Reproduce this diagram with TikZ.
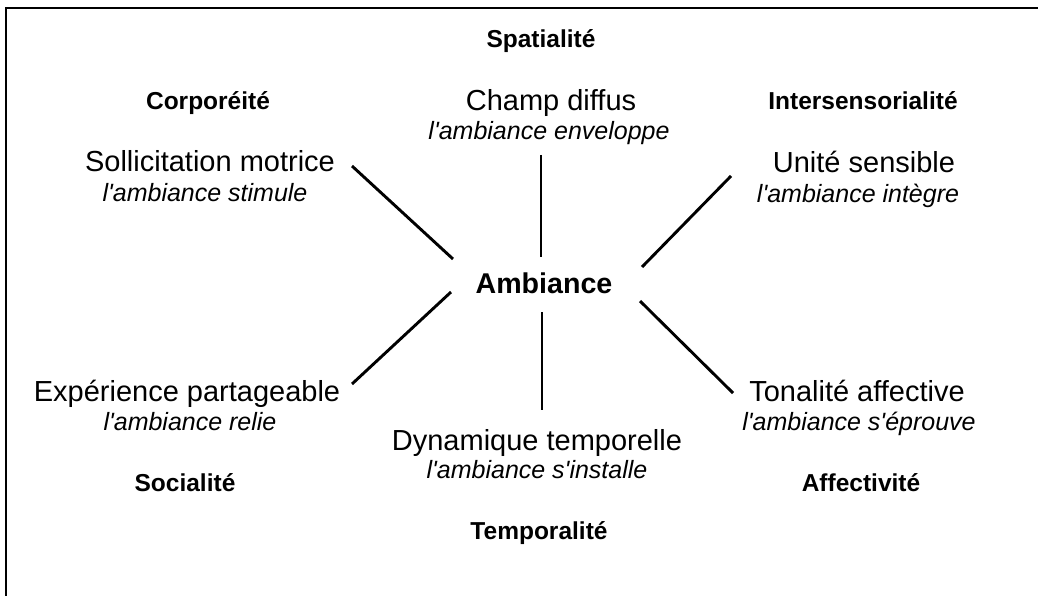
\documentclass[tikz,border=0pt]{standalone}
\usepackage{fontspec}
\setmainfont{Liberation Sans}[Ligatures=TeXOff]
\begin{document}
\begin{tikzpicture}[x=1pt,y=-1pt,
  dim/.style={font=\fontsize{24.5}{26}\selectfont\bfseries, anchor=base, inner sep=0pt},
  main/.style={font=\fontsize{29}{31}\selectfont, anchor=base, inner sep=0pt},
  sub/.style={font=\fontsize{25}{27}\selectfont\itshape, anchor=base, inner sep=0pt},
  spoke/.style={line width=2.9pt},
  frame/.style={line width=2.4pt}]
\useasboundingbox (0,0) rectangle (1038,596);
% frame (left and top edges only)
\coordinate (fbl) at (6,600);
\coordinate (ftl) at (6,8);
\coordinate (ftr) at (1042,8);
\draw[frame] (fbl) -- (ftl) -- (ftr);
% dimensions
\node[dim] (spat) at (541,48) {Spatialité};
\node[dim] (corp) at (208,110) {Corporéité};
\node[dim] (inter) at (863,110) {Intersensorialité};
\node[dim] (soc) at (185,491) {Socialité};
\node[dim] (aff) at (861,491) {Affectivité};
\node[dim] (temp) at (539,539) {Temporalité};
% centre
\node[main, font=\fontsize{28.6}{30}\selectfont\bfseries] (amb) at (544,293) {Ambiance};
% qualities
\node[main] (champ) at (551,111) {Champ diffus};
\node[sub] (champs) at (549,139.5) {l'ambiance enveloppe};
\node[main] (soll) at (210,172) {Sollicitation motrice};
\node[sub] (solls) at (205,201.5) {l'ambiance stimule};
\node[main] (unite) at (864,173) {Unité sensible};
\node[sub] (unites) at (858,202.5) {l'ambiance intègre};
\node[main] (exp) at (187,401) {Expérience partageable};
\node[sub] (exps) at (190,430.5) {l'ambiance relie};
\node[main] (ton) at (857,401) {Tonalité affective};
\node[sub] (tons) at (859,430.5) {l'ambiance s'éprouve};
\node[main] (dyn) at (537,450) {Dynamique temporelle};
\node[sub] (dyns) at (537,478.5) {l'ambiance s'installe};
% spoke ends
\coordinate (t1) at (541,155); \coordinate (t2) at (541,257);
\coordinate (b1) at (542,312); \coordinate (b2) at (542,410);
\coordinate (ul1) at (352,166); \coordinate (ul2) at (453,259);
\coordinate (ur1) at (731,176); \coordinate (ur2) at (642,267);
\coordinate (ll1) at (352,384); \coordinate (ll2) at (451,292);
\coordinate (lr1) at (733,393); \coordinate (lr2) at (640,301);
\draw[spoke] (t1) -- (t2);
\draw[spoke] (b1) -- (b2);
\draw[spoke] (ul1) -- (ul2);
\draw[spoke] (ur1) -- (ur2);
\draw[spoke] (ll1) -- (ll2);
\draw[spoke] (lr1) -- (lr2);
\end{tikzpicture}
\end{document}
